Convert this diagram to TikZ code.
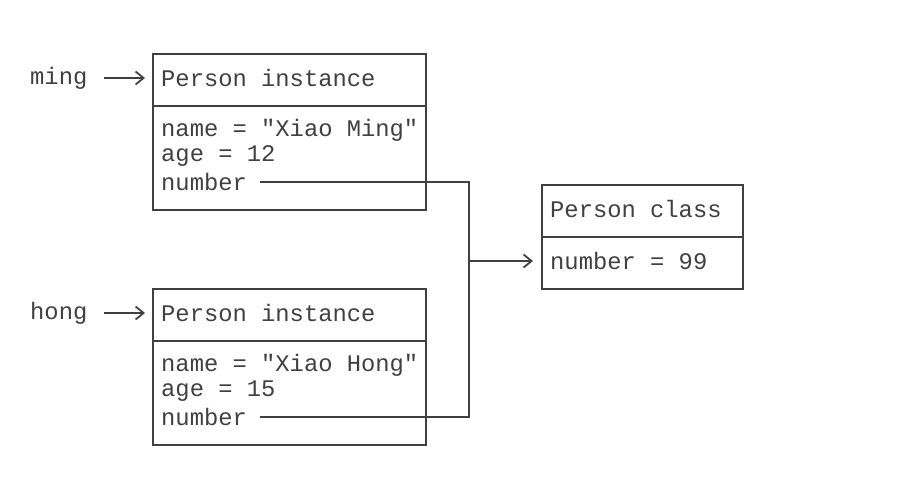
\documentclass[tikz,border=0pt]{standalone}
\usepackage{fontspec}
\setmonofont{Liberation Mono}
\usetikzlibrary{arrows.meta,positioning}
\definecolor{ink}{HTML}{404040}
\tikzset{
	part/.style={draw=ink, line width=1.8pt, anchor=north west, inner sep=0pt},
	field/.style={anchor=west, inner sep=0pt, text=ink, font=\ttfamily\fontsize{23.8}{26}\selectfont},
	link/.style={draw=ink, line width=1.8pt},
	ptr/.style={link, -{Straight Barb[length=8pt, width=13pt, line width=1.8pt]}}
}
\begin{document}
\begin{tikzpicture}[x=1pt, y=-1pt]
		\useasboundingbox (0,0) rectangle (902,498);
		
		%instance boxes
		\foreach \who/\full/\age/\y in {ming/Ming/12/53, hong/Hong/15/288}{
			\node[part, minimum width=273pt, minimum height=52pt] (\who title) at (152, \y){};
			\node[part, minimum width=273pt, minimum height=104pt] (\who body) at (152, \y+52){};
			\node[field] at (161, \y+25){Person instance};
			\node[field] (\who name) at (161, \y+77){name = "Xiao \full"};
			\node[field] (\who age) at (161, \y+103){age = \age};
			\node[field] (\who num) at (161, \y+129){number};
			\node[field] (\who) at (30, \y+25){\who};
			\draw[ptr, shorten <=16pt, shorten >=7pt] (\who) -- (\who title.west |- \who);
		}
		
		%class box
		\node[part, minimum width=201pt, minimum height=52pt] (classtitle) at (541, 184){};
		\node[part, minimum width=201pt, minimum height=52pt] (classbody) at (541, 236){};
		\node[field] at (550, 209){Person class};
		\node[field] (classnum) at (550, 261){number = 99};
		
		%shared attribute
		\coordinate (join) at (469, 261);
		\draw[link, shorten <=13pt] (mingnum.east) -| (join);
		\draw[link, shorten <=13pt] (hongnum.east) -| (join);
		\draw[ptr, shorten >=8pt] (join) -- (classbody.west |- join);
\end{tikzpicture}
\end{document}
